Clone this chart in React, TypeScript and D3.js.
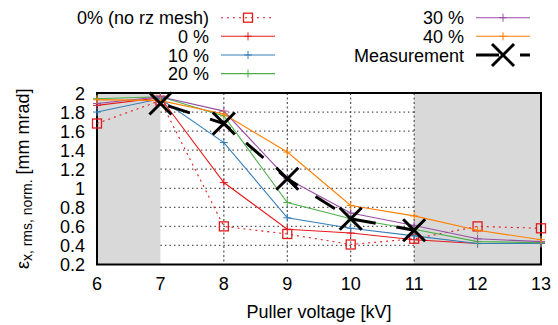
import React from "react";
import * as d3 from "d3";

const VOLTAGES = [6, 7, 8, 9, 10, 11, 12, 13];
const NO_RZ = [1.68, 1.92, 0.6, 0.52, 0.41, 0.47, 0.6, 0.58];
const P0 = [1.87, 1.95, 1.06, 0.57, 0.53, 0.46, 0.42, 0.42];
const P10 = [1.8, 1.94, 1.48, 0.69, 0.58, 0.5, 0.42, 0.42];
const P20 = [1.94, 1.96, 1.76, 0.85, 0.68, 0.57, 0.44, 0.43];
const P30 = [1.89, 1.96, 1.81, 1.1, 0.74, 0.61, 0.47, 0.44];
const P40 = [1.93, 1.92, 1.78, 1.38, 0.82, 0.71, 0.56, 0.46];
const MEAS_V = [7, 8, 9, 10, 11];
const MEAS = [1.89, 1.68, 1.1, 0.68, 0.56];
const X_TICKS = [6, 7, 8, 9, 10, 11, 12, 13];
const Y_TICKS = [0.2, 0.4, 0.6, 0.8, 1, 1.2, 1.4, 1.6, 1.8, 2];
const GREY_BANDS = [[6, 7], [11, 13]];

const FONT = "'Liberation Sans', Arial, Helvetica, sans-serif";
const FS = 18;

const SERIES = [
  { label: "0% (no rz mesh)", values: NO_RZ, color: "#e41a1c", marker: "square", dash: "2,4" },
  { label: "0 %", values: P0, color: "#e41a1c", marker: "plus", dash: null },
  { label: "10 %", values: P10, color: "#377eb8", marker: "plus", dash: null },
  { label: "20 %", values: P20, color: "#4daf4a", marker: "plus", dash: null },
  { label: "30 %", values: P30, color: "#984ea3", marker: "plus", dash: null },
  { label: "40 %", values: P40, color: "#ff7f00", marker: "plus", dash: null },
];

const L = 97, R = 541, T = 93, B = 264.5;
const x = d3.scaleLinear().domain([6, 13]).range([L, R]);
const y = d3.scaleLinear().domain([0.2, 2]).range([B, T]);

function Marker({ type, cx, cy, color }: any) {
  if (type === "square") {
    return <rect x={cx - 4.5} y={cy - 4.5} width={9} height={9} fill="none" stroke={color} strokeWidth={1.3} />;
  }
  if (type === "plus") {
    return (
      <g stroke={color} strokeWidth={1}>
        <line x1={cx - 4} x2={cx + 4} y1={cy} y2={cy} />
        <line x1={cx} x2={cx} y1={cy - 4} y2={cy + 4} />
      </g>
    );
  }
  return (
    <g stroke="#000" strokeWidth={3}>
      <line x1={cx - 11} x2={cx + 11} y1={cy - 11} y2={cy + 11} />
      <line x1={cx - 11} x2={cx + 11} y1={cy + 11} y2={cy - 11} />
    </g>
  );
}

export default function App() {
  const line = d3.line<[number, number]>().x((d) => x(d[0])).y((d) => y(d[1]));
  const legendRows = [17.7, 36.3, 55, 73.6];
  const leftCol = SERIES.slice(0, 4);
  const rightCol = SERIES.slice(4);
  return (
    <div style={{ position: "absolute", left: 0, top: 0 }}>
      <svg width={558} height={325} style={{ display: "block", fontFamily: FONT }}>
        <rect width={558} height={325} fill="#fff" />
        {GREY_BANDS.map(([a, b], i) => (
          <rect key={i} x={x(a)} y={T} width={x(b) - x(a)} height={B - T} fill="#d9d9d9" />
        ))}
        {Y_TICKS.filter((t) => t > 0.2 && t < 2).map((t) => (
          <line key={t} x1={x(7)} x2={x(11)} y1={y(t)} y2={y(t)} stroke="#555" strokeWidth={1.2} strokeDasharray="1.5,3" />
        ))}
        {[8, 9, 10, 11].map((t) => (
          <line key={t} x1={x(t)} x2={x(t)} y1={T} y2={B} stroke="#333" strokeWidth={1} strokeDasharray="2,2.5" />
        ))}
        <rect x={L} y={T} width={R - L} height={B - T} fill="none" stroke="#000" strokeWidth={2} />
        {X_TICKS.map((t) => (
          <text key={t} x={x(t)} y={290} fontSize={FS} textAnchor="middle" fill="#000">{t}</text>
        ))}
        {Y_TICKS.map((t) => (
          <text key={t} x={85} y={y(t) + 6.5} fontSize={FS} textAnchor="end" fill="#000">{d3.format("~g")(t)}</text>
        ))}
        <text x={x(9.5)} y={318} fontSize={FS} textAnchor="middle" fill="#000">Puller voltage [kV]</text>
        <g transform={`translate(29, ${(T + B) / 2}) rotate(-90)`}>
          <text textAnchor="middle" fontSize={FS} fill="#000">
            <tspan>ε</tspan>
            <tspan fontSize={14} dy={3}>x, rms, norm.</tspan>
            <tspan dy={-3}> [mm mrad]</tspan>
          </text>
        </g>
        {SERIES.map((s, i) => {
          const pts = VOLTAGES.map((v, j) => [v, s.values[j]] as [number, number]);
          return (
            <g key={i}>
              <path d={line(pts) || ""} fill="none" stroke={s.color} strokeWidth={1.1} strokeDasharray={s.dash || undefined} />
              {pts.map((p, j) => (
                <Marker key={j} type={s.marker} cx={x(p[0])} cy={y(p[1])} color={s.color} />
              ))}
            </g>
          );
        })}
        <path
          d={line(MEAS_V.map((v, j) => [v, MEAS[j]] as [number, number])) || ""}
          fill="none" stroke="#000" strokeWidth={3} strokeDasharray="23,21" strokeDashoffset={36}
        />
        {MEAS_V.map((v, j) => (
          <Marker key={j} type="x" cx={x(v)} cy={y(MEAS[j])} />
        ))}
        {leftCol.map((s, i) => (
          <g key={i}>
            <text x={209} y={legendRows[i] + 6.5} fontSize={FS} textAnchor="end" fill="#000">{s.label}</text>
            <line x1={221} x2={275} y1={legendRows[i]} y2={legendRows[i]} stroke={s.color} strokeWidth={1.1} strokeDasharray={s.dash || undefined} />
            <Marker type={s.marker} cx={248} cy={legendRows[i]} color={s.color} />
          </g>
        ))}
        {rightCol.map((s, i) => (
          <g key={i}>
            <text x={464} y={legendRows[i] + 6.5} fontSize={FS} textAnchor="end" fill="#000">{s.label}</text>
            <line x1={476} x2={530} y1={legendRows[i]} y2={legendRows[i]} stroke={s.color} strokeWidth={1.1} />
            <Marker type={s.marker} cx={503} cy={legendRows[i]} color={s.color} />
          </g>
        ))}
        <g>
          <text x={464} y={legendRows[2] + 6.5} fontSize={FS} textAnchor="end" fill="#000">Measurement</text>
          <line x1={476} x2={530} y1={legendRows[2]} y2={legendRows[2]} stroke="#000" strokeWidth={3} strokeDasharray="23,21" />
          <Marker type="x" cx={503} cy={legendRows[2]} />
        </g>
      </svg>
    </div>
  );
}
